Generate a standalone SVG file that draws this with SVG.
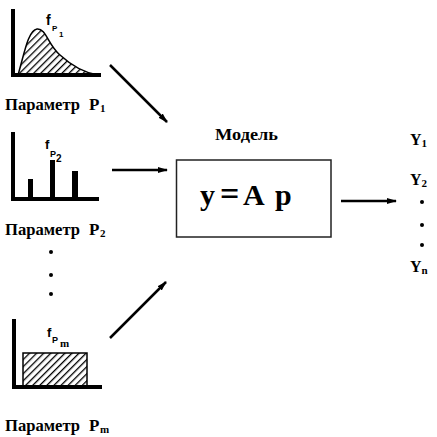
<svg xmlns="http://www.w3.org/2000/svg" width="437" height="437" viewBox="0 0 437 437">
<defs>
<pattern id="hatch" patternUnits="userSpaceOnUse" width="5" height="5" patternTransform="rotate(45)">
<rect width="5" height="5" fill="#fff"/>
<line x1="0" y1="0" x2="0" y2="5" stroke="#000" stroke-width="2.6"/>
</pattern>
<marker id="arr" markerWidth="10" markerHeight="8" refX="9" refY="4" orient="auto" markerUnits="userSpaceOnUse">
<path d="M0,1 L10,4 L0,7 Z" fill="#000"/>
</marker>
</defs>
<style>
.axis{stroke:#000;stroke-width:4;fill:none;stroke-linecap:square}
.serif{font-family:"Liberation Serif","Times New Roman",serif;font-weight:bold;fill:#000}
.lbl{font-size:17px}
.sub{font-size:11px}
.f{font-family:"Liberation Sans",Arial,sans-serif;font-weight:bold;fill:#000}
.conn{stroke:#000;stroke-width:2.5;fill:none;marker-end:url(#arr)}
.ylbl{font-size:16px}
</style>
<rect width="437" height="437" fill="#fff"/>

<g id="param1">
<path d="M18,75 C24,55 28,30 37,29 C46,28 48,45 60,55 C72,66 85,73 98,75 Z" fill="url(#hatch)" stroke="#000" stroke-width="1.5"/>
<path class="axis" d="M13,11 L13,75 L99,75"/>
<text class="f" x="46" y="25" font-size="14">f</text>
<text class="f" x="52" y="31" font-size="8">P</text>
<text class="f" x="59" y="37" font-size="8">1</text>
<text class="serif lbl" x="5" y="110" textLength="75" lengthAdjust="spacingAndGlyphs">Параметр</text>
<text class="serif lbl" x="89" y="110">P</text>
<text class="serif sub" x="100" y="112">1</text>
</g>

<g id="param2">
<path class="axis" d="M13,134 L13,199 L97,199"/>
<rect x="28" y="179" width="5" height="20" fill="#000"/>
<rect x="50" y="160" width="5" height="39" fill="#000"/>
<rect x="72" y="171" width="6" height="28" fill="#000"/>
<text class="f" x="45" y="149" font-size="13">f</text>
<text class="f" x="50" y="157" font-size="9">P</text>
<text class="f" x="56" y="162" font-size="10">2</text>
<text class="serif lbl" x="5" y="235" textLength="75" lengthAdjust="spacingAndGlyphs">Параметр</text>
<text class="serif lbl" x="89" y="235">P</text>
<text class="serif sub" x="100" y="237">2</text>
</g>

<g id="dots-left">
<circle cx="51" cy="252" r="2" fill="#000"/>
<circle cx="51" cy="275" r="2" fill="#000"/>
<circle cx="51" cy="294" r="2" fill="#000"/>
</g>

<g id="paramm">
<rect x="23" y="353" width="64" height="34" fill="url(#hatch)" stroke="#000" stroke-width="1.5"/>
<path class="axis" d="M14,321 L14,387 L100,387"/>
<text class="f" x="47" y="337" font-size="13">f</text>
<text class="f" x="52" y="343" font-size="9">P</text>
<text class="serif" x="60" y="347" font-size="11">m</text>
<text class="serif lbl" x="5" y="431" textLength="75" lengthAdjust="spacingAndGlyphs">Параметр</text>
<text class="serif lbl" x="89" y="431">P</text>
<text class="serif sub" x="100" y="433">m</text>
</g>

<g id="model">
<text class="serif" x="215" y="140" font-size="17" textLength="63" lengthAdjust="spacingAndGlyphs">Модель</text>
<rect x="176.5" y="160" width="154.5" height="77" fill="#fff" stroke="#222" stroke-width="1.5"/>
<text class="serif" y="205" font-size="30"><tspan x="200">y</tspan><tspan x="220" font-size="34">=</tspan><tspan x="243">A</tspan><tspan x="275">p</tspan></text>
</g>

<g id="outputs">
<text class="serif ylbl" x="410" y="145">Y<tspan font-size="11" dy="2">1</tspan></text>
<text class="serif ylbl" x="410" y="185">Y<tspan font-size="11" dy="2">2</tspan></text>
<circle cx="422" cy="202" r="2" fill="#000"/>
<circle cx="422" cy="225" r="2" fill="#000"/>
<circle cx="422" cy="245" r="2" fill="#000"/>
<text class="serif ylbl" x="410" y="272">Y<tspan font-size="11" dy="2">n</tspan></text>
</g>

<g id="connectors">
<line class="conn" x1="110" y1="65" x2="167" y2="122"/>
<line class="conn" x1="112" y1="170" x2="167" y2="170"/>
<line class="conn" x1="110" y1="338" x2="166" y2="282"/>
<line class="conn" x1="341" y1="201" x2="396" y2="201"/>
</g>
</svg>
